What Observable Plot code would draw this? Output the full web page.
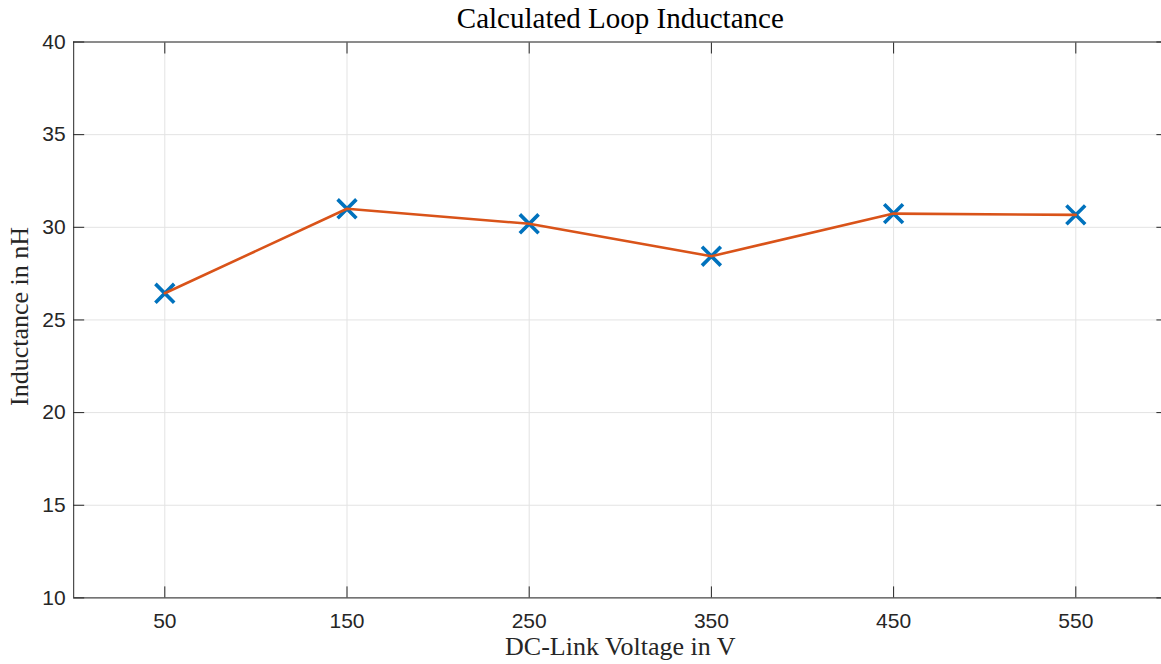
<!DOCTYPE html>
<html>
<head>
<meta charset="utf-8">
<script src="https://cdn.jsdelivr.net/npm/d3@7"></script>
<script src="https://cdn.jsdelivr.net/npm/@observablehq/plot@0.6"></script>
<style>
  html, body { margin: 0; padding: 0; background: #fff; overflow: hidden; }
</style>
</head>
<body>
<div id="chart"></div>
<script>
// Measured loop inductance at each DC-link voltage step
const voltages = [50, 150, 250, 350, 450, 550];
const inductance = [26.44, 31.00, 30.19, 28.44, 30.74, 30.67];

// Axis ticks and texts
const xTicks = [50, 150, 250, 350, 450, 550];
const yTicks = [10, 15, 20, 25, 30, 35, 40];
const titleText = "Calculated Loop Inductance";
const xLabel = "DC-Link Voltage in V";
const yLabel = "Inductance in nH";

const rows = voltages.map((v, i) => ({ v, L: inductance[i] }));

const W = 1161, H = 664;
const mL = 73.2, mR = -5.4, mT = 41.5, mB = 66.6;
const axisColor = "#262626";
const gridColor = "#e3e3e3";
const serif = "'Liberation Serif', 'Times New Roman', serif";
const sans = "'Liberation Sans', Arial, Helvetica, sans-serif";
const tickFont = 21;

const chart = Plot.plot({
  width: W,
  height: H,
  marginLeft: mL,
  marginRight: mR,
  marginTop: mT,
  marginBottom: mB,
  style: { fontFamily: sans, fontSize: `${tickFont}px`, color: axisColor, background: "#fff" },
  x: { domain: [0, 600] },
  y: { domain: [10, 40] },
  marks: [
    // light grid at every tick
    Plot.gridX(xTicks, { stroke: gridColor, strokeOpacity: 1 }),
    Plot.gridY(yTicks, { stroke: gridColor, strokeOpacity: 1 }),
    // boxed axes
    Plot.ruleX([0, 600], { stroke: axisColor }),
    Plot.ruleY([10, 40], { stroke: axisColor }),
    // inward ticks on all four sides, labels on bottom and left
    Plot.axisX(xTicks, { anchor: "bottom", tickSize: -11, tickPadding: 26, label: null, fill: axisColor, fontSize: tickFont }),
    Plot.axisX(xTicks, { anchor: "top", tickSize: -11, tickFormat: () => "", label: null }),
    Plot.axisY(yTicks, { anchor: "left", tickSize: -11, tickPadding: 19, label: null, fill: axisColor, fontSize: tickFont }),
    Plot.axisY(yTicks, { anchor: "right", tickSize: -11, tickFormat: () => "", label: null }),
    // markers, then the connecting line
    Plot.dot(rows, { x: "v", y: "L", symbol: "times", r: 8.6, stroke: "#0072BD", strokeWidth: 3.6 }),
    Plot.line(rows, { x: "v", y: "L", stroke: "#D95319", strokeWidth: 2.6 }),
    // title and axis labels
    Plot.text([titleText], {
      frameAnchor: "top", textAnchor: "middle", lineAnchor: "bottom", dy: -14.5,
      fontFamily: serif, fontSize: 29, fill: "#000"
    }),
    Plot.text([xLabel], {
      frameAnchor: "bottom", textAnchor: "middle", lineAnchor: "bottom", dy: 57,
      fontFamily: serif, fontSize: 26, fill: axisColor
    }),
    Plot.text([yLabel], {
      frameAnchor: "left", textAnchor: "middle", lineAnchor: "bottom", rotate: -90, dx: -45.2, dy: -3.5,
      fontFamily: serif, fontSize: 26, fill: axisColor
    })
  ]
});

document.getElementById("chart").appendChild(chart);
</script>
</body>
</html>
